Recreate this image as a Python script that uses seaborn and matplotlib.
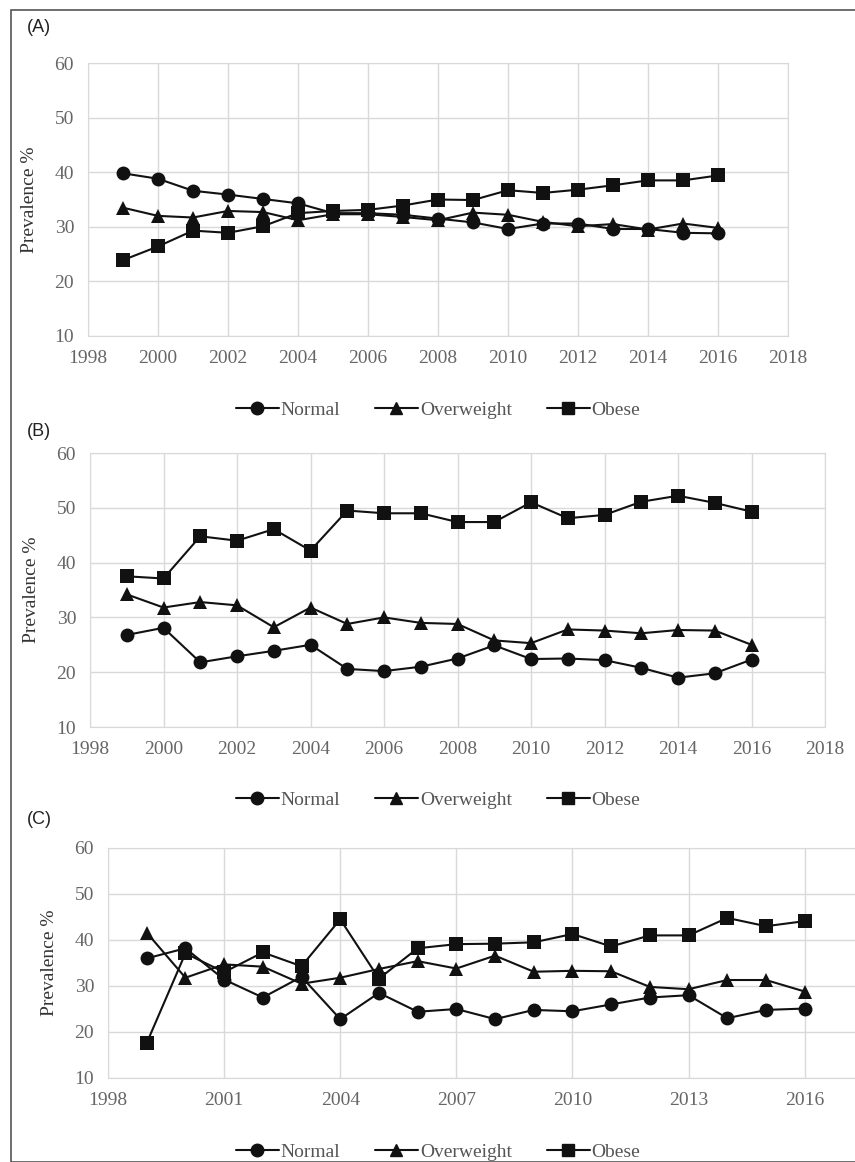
import numpy as np
import pandas as pd
import seaborn as sns
import matplotlib.pyplot as plt
from matplotlib.patches import Rectangle

years = list(range(1999, 2017))

a_normal = [39.8, 38.8, 36.6, 35.9, 35.1, 34.3, 32.5, 32.5, 32.2, 31.5, 30.8, 29.6, 30.6, 30.6, 29.6, 29.6, 28.9, 28.8]
a_over = [33.5, 32.0, 31.7, 32.9, 32.7, 31.2, 32.3, 32.3, 31.8, 31.2, 32.6, 32.2, 30.9, 30.1, 30.5, 29.5, 30.6, 29.8]
a_obese = [23.9, 26.4, 29.3, 28.9, 30.1, 32.5, 32.9, 33.1, 33.9, 35.0, 34.9, 36.7, 36.2, 36.8, 37.6, 38.5, 38.5, 39.4]

b_normal = [26.8, 28.1, 21.8, 22.9, 23.9, 25.0, 20.6, 20.2, 21.0, 22.5, 24.9, 22.4, 22.5, 22.2, 20.8, 19.0, 19.8, 22.3]
b_over = [34.2, 31.8, 32.8, 32.2, 28.2, 31.8, 28.8, 30.0, 29.0, 28.8, 25.8, 25.3, 27.8, 27.6, 27.1, 27.7, 27.6, 25.0]
b_obese = [37.5, 37.1, 44.8, 44.0, 46.1, 42.2, 49.5, 49.0, 49.0, 47.4, 47.4, 51.0, 48.1, 48.7, 51.1, 52.2, 50.9, 49.3]

c_normal = [36.0, 38.2, 31.4, 27.5, 32.0, 22.8, 28.5, 24.4, 25.0, 22.8, 24.8, 24.5, 26.0, 27.5, 28.0, 23.0, 24.8, 25.1]
c_over = [41.6, 31.8, 34.7, 34.2, 30.5, 31.8, 33.7, 35.4, 33.8, 36.6, 33.1, 33.3, 33.2, 29.8, 29.3, 31.3, 31.3, 28.8]
c_obese = [17.6, 37.1, 33.0, 37.3, 34.3, 44.5, 31.6, 38.2, 39.1, 39.2, 39.5, 41.3, 38.6, 41.0, 41.0, 44.8, 43.0, 44.1]

groups = ["Normal", "Overweight", "Obese"]
panels = [("(A)", [a_normal, a_over, a_obese], 2018, 2018, 2),
          ("(B)", [b_normal, b_over, b_obese], 2018, 2018, 2),
          ("(C)", [c_normal, c_over, c_obese], 2017.3, 2016, 3)]

sns.set_style("white")
plt.rcParams['font.family'] = ['Liberation Serif', 'DejaVu Serif']

W, H = 855, 1162
fig = plt.figure(figsize=(W / 100, H / 100), dpi=100)
fig.patches.append(Rectangle((11 / W, 0), 1.2, 1 - 10 / H, transform=fig.transFigure,
                             fill=False, edgecolor='#555555', lw=1.2))

# axes boxes in pixels: left, top(60), right, bottom(10)
boxes = [(88, 63, 788, 336), (90, 453, 825, 727), (108, 848, 855, 1078)]
labels_y = [28, 432, 820]
legend_y = [410, 800, 1152]

for (tag, series, xmax, tmax, step), (l, t, r, b), ly, gy in zip(panels, boxes, labels_y, legend_y):
    ax = fig.add_axes([l / W, 1 - b / H, (r - l) / W, (b - t) / H])
    df = pd.DataFrame({
        "Year": years * 3,
        "Prevalence": sum(series, []),
        "Group": sum([[g] * len(years) for g in groups], []),
    })
    sns.lineplot(data=df, x="Year", y="Prevalence", hue="Group", style="Group",
                 palette=["#111111"] * 3, markers=["o", "^", "s"], dashes=False,
                 markersize=10, markeredgewidth=0, linewidth=1.5, ax=ax, legend=False)
    ax.set_xlim(1998, xmax)
    ax.set_ylim(10, 60)
    ax.set_xticks(range(1998, tmax + 1, step))
    ax.set_yticks(range(10, 61, 10))
    ax.grid(True, color='#d9d9d9', lw=1)
    for s in ax.spines.values():
        s.set_color('#d9d9d9')
    if step == 3:
        ax.spines['right'].set_visible(False)
    ax.set_axisbelow(True)
    ax.tick_params(labelsize=14, colors='#666666', length=0, pad=10)
    ax.set_xlabel("")
    ax.set_ylabel("Prevalence %", fontsize=14, color='#333333', labelpad=12)
    fig.text(27 / W, 1 - ly / H, tag, fontsize=13, va='center', color='#222222',
             family=['Liberation Sans', 'DejaVu Sans'])
    handles = [plt.Line2D([], [], color='#111111', marker=m, markersize=9, lw=1.5)
               for m in ["o", "^", "s"]]
    fig.legend(handles, groups, loc='center', bbox_to_anchor=(((88 + 788) / 2) / W, 1 - gy / H),
               ncol=3, frameon=False, fontsize=14, handlelength=2.2, handletextpad=0.1,
               columnspacing=1.8, labelcolor='#555555')

fig.savefig("out.png", dpi=100)
